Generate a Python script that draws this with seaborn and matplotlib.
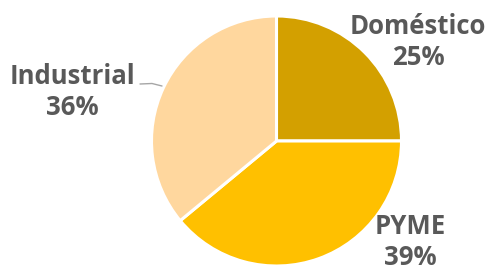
import matplotlib
matplotlib.use("Agg")
import matplotlib.pyplot as plt
import seaborn as sns

categories = ["Doméstico", "PYME", "Industrial"]
values = [25, 39, 36]
colors = ["#D3A000", "#FFC000", "#FFD79E"]

sns.set_theme(style="white")
plt.rcParams["font.family"] = ["Open Sans", "DejaVu Sans"]

W, H = 490, 271
fig = plt.figure(figsize=(W / 100, H / 100), dpi=100)
cx, cy, r = 276.5, 141, 125
ax = fig.add_axes([(cx - r) / W, (H - cy - r) / H, 2 * r / W, 2 * r / H])
ax.pie(values, colors=colors, startangle=90, counterclock=False, radius=1,
       wedgeprops=dict(edgecolor="white", linewidth=2.2))
ax.set_xlim(-1, 1)
ax.set_ylim(-1, 1)
ax.set_aspect("equal")
ax.axis("off")

pos = {"Doméstico": (418, 42), "PYME": (410, 242), "Industrial": (72, 92)}
for c, v in zip(categories, values):
    x, y = pos[c]
    fig.text(x / W, 1 - y / H, f"{c}\n{v}%", ha="center", va="center",
             fontsize=18.5, fontweight="bold", color="#595959", linespacing=1.15)

# leader line for Industrial
fig.add_artist(plt.Line2D([140 / W, 152 / W, 162 / W], [1 - 84 / H, 1 - 83.5 / H, 1 - 86 / H],
                          color="#A6A6A6", linewidth=1))

fig.savefig("out.png", dpi=100, facecolor="white")
